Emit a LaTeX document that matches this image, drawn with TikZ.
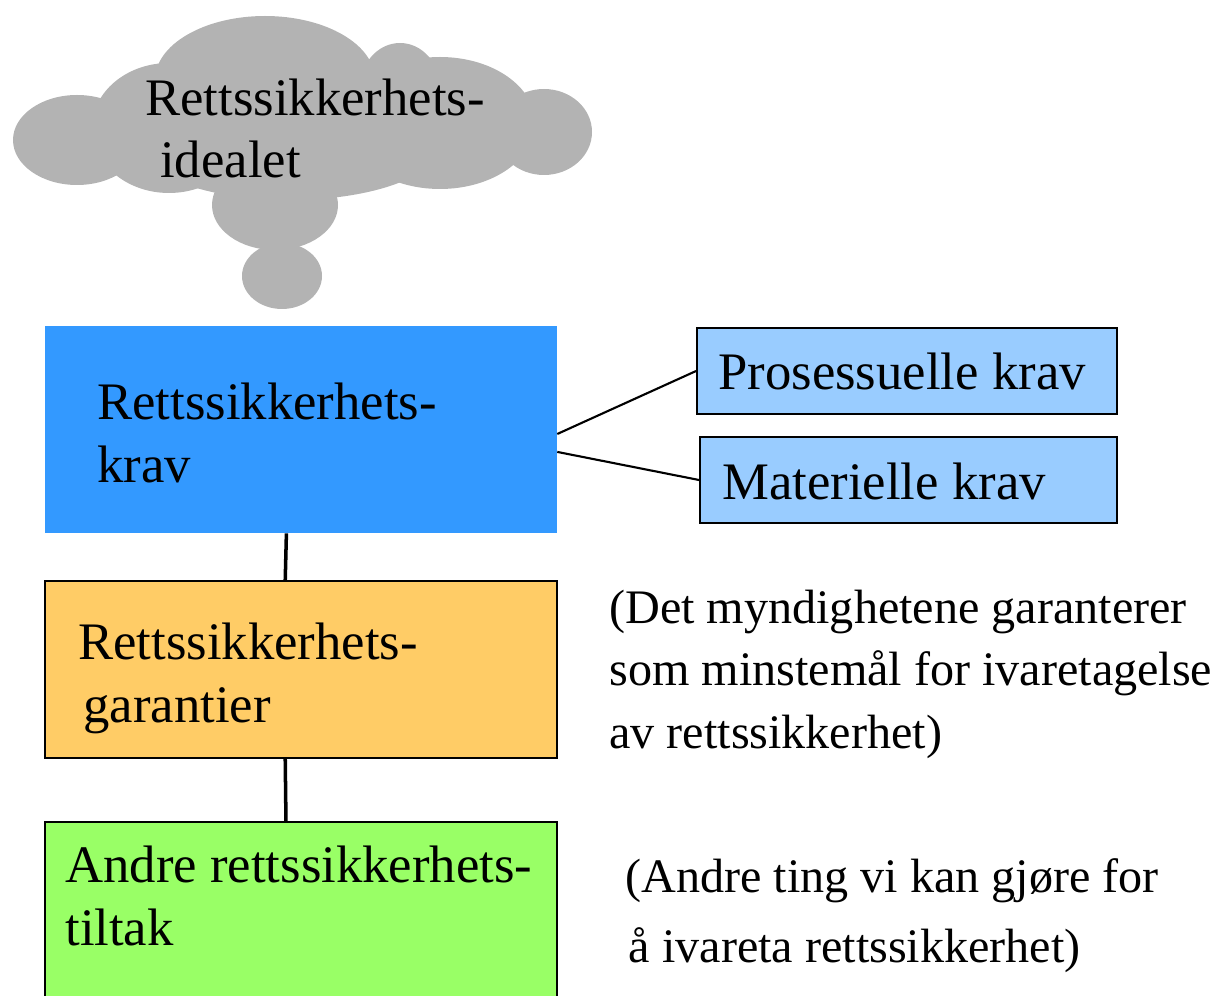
\documentclass[tikz,border=0pt]{standalone}
\usepackage{fontspec}
\setmainfont{Liberation Serif}
\usetikzlibrary{positioning}
\definecolor{cloudgray}{HTML}{B3B3B3}
\definecolor{kravblue}{HTML}{3399FF}
\definecolor{subblue}{HTML}{99CCFF}
\definecolor{garorange}{HTML}{FFCC66}
\definecolor{tiltakgreen}{HTML}{99FF66}
\tikzset{
	box/.style = {rectangle, inner sep = 0mm, minimum width = 10.24cm},
	framed/.style = {draw = black, line width = 1.1pt},
	subbox/.style = {rectangle, framed, fill = subblue, inner sep = 0mm, minimum height = 1.72cm},
	txt/.style = {anchor = base west, inner sep = 0mm, align = left, font = \fontsize{30}{35.5}\selectfont},
	notetxt/.style = {txt, font = \fontsize{27.4}{35.5}\selectfont},
	link/.style = {line width = 1.2pt},
	stem/.style = {line width = 2pt}
}

\begin{document}
\begin{tikzpicture}[x = 0.02cm, y = -0.02cm]
	\useasboundingbox (0, 0) rectangle (1230, 996);

	% cloud
	\foreach \cx/\cy/\rx/\ry in {77/140/64/45, 169/128/77/65, 265/80/110/64, 400/88/40/45, 440/123/95/66, 544/132/48/43, 290/145/150/55, 275/205/63/45, 282/276/40/33}{
		\fill [cloudgray] (\cx, \cy) ellipse [x radius = \rx, y radius = \ry];
	}
	\node [txt] (ideal) at (145, 178) {Rettssikkerhets-\\\hspace*{8.5pt}idealet};

	% boxes
	\node [box, fill = kravblue, minimum height = 4.14cm] (krav) at (301, 429.5) {};
	\node [txt] (kravtext) at (97, 482) {Rettssikkerhets-\\krav};

	\node [subbox, minimum width = 8.4cm] (proc) at (907, 371) {};
	\node [txt] (proctext) at (718, 390) {Prosessuelle krav};
	\node [subbox, minimum width = 8.34cm] (mat) at (908.5, 480) {};
	\node [txt] (mattext) at (722, 500) {Materielle krav};

	\node [box, framed, fill = garorange, minimum height = 3.54cm] (gar) at (301, 669.5) {};
	\node [txt] (gartext) at (78, 722) {Rettssikkerhets-\\\hspace*{3pt}garantier};

	\node [box, framed, fill = tiltakgreen, minimum height = 3.76cm] (tiltak) at (301, 916) {};
	\node [txt] (tiltaktext) at (65, 945) {Andre rettssikkerhets-\\tiltak};

	% notes
	\node [notetxt] (garnote) at (609, 748) {(Det myndighetene garanterer\\som minstemål for ivaretagelse\\av rettssikkerhet)};
	\node [notetxt] (tiltaknote) at (625, 962) {(Andre ting vi kan gjøre for\\[4pt]\hspace*{2pt}å ivareta rettssikkerhet)};

	% connectors
	\draw [link] (krav.-1.7) -- (proc.west);
	\draw [link] (krav.-5.5) -- (mat.west);
	\draw [stem] (krav.-98.8) -- (gar.100.25);
	\draw [stem] (gar.-100.25) -- (tiltak.99.66);
\end{tikzpicture}
\end{document}
